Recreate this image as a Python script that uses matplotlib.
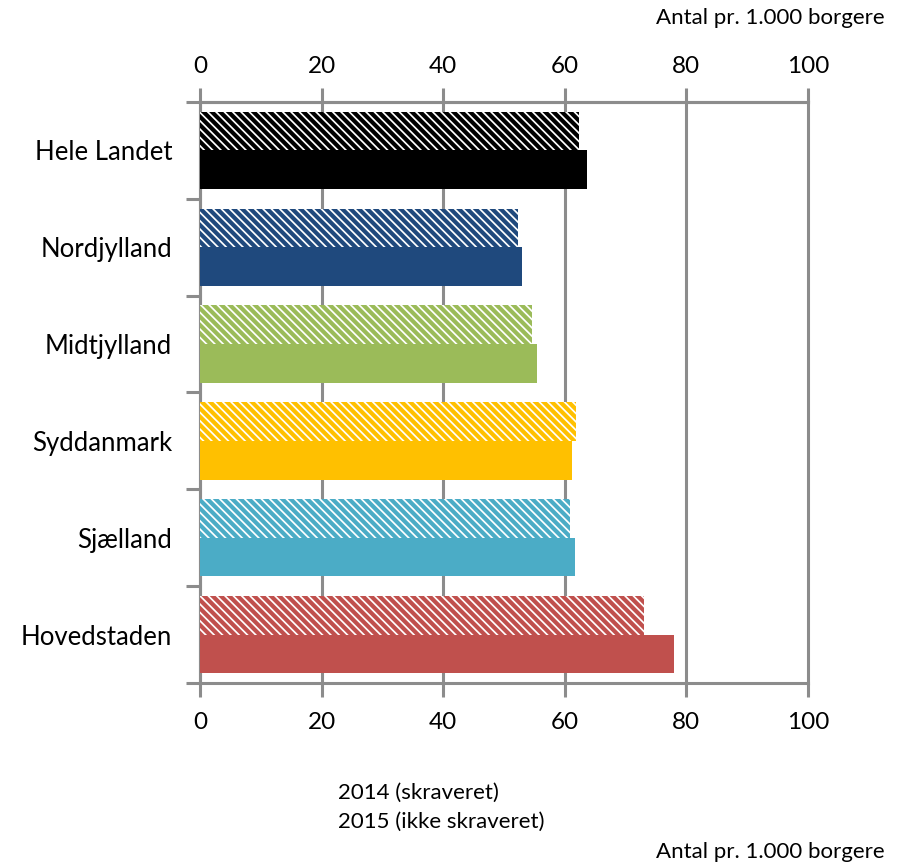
import numpy as np
from matplotlib import pyplot as plt

regions = ["Hele Landet", "Nordjylland", "Midtjylland", "Syddanmark", "Sjælland", "Hovedstaden"]
values_2014 = [62.3, 52.3, 54.6, 61.8, 60.8, 73.0]
values_2015 = [63.7, 53.0, 55.4, 61.2, 61.6, 77.9]
colors = ["#000000", "#1F497D", "#9BBB59", "#FFC000", "#4BACC6", "#C0504D"]
xticks = [0, 20, 40, 60, 80, 100]
unit_text = "Antal pr. 1.000 borgere"
note_2014 = "2014 (skraveret)"
note_2015 = "2015 (ikke skraveret)"

plt.rcParams["font.family"] = ["Lato", "DejaVu Sans"]
plt.rcParams["hatch.linewidth"] = 3.0

grey = "#8C8C8C"

fig = plt.figure(figsize=(9, 8.65), dpi=100)
ax = fig.add_axes([0.2222, 0.2104, 0.6756, 0.6717])

pos = np.arange(len(regions))
h = 0.4
for i, reg in enumerate(regions):
    ax.barh(pos[i] - h / 2, values_2014[i], height=h, color="white",
            edgecolor=colors[i], hatch="\\\\\\\\", linewidth=0, zorder=3)
    ax.barh(pos[i] + h / 2, values_2015[i], height=h, color=colors[i],
            linewidth=0, zorder=3)

ax.set_xlim(0, 100)
ax.set_ylim(len(regions) - 0.5, -0.5)
ax.set_xticks(xticks)
ax.set_xticklabels([str(t) for t in xticks])
ax.tick_params(axis="x", direction="out", length=10, width=2.2,
               color=grey, labelsize=17.5, pad=11)

# same ticks on top, own padding
top = ax.secondary_xaxis("top")
top.set_xticks(xticks)
top.set_xticklabels([str(t) for t in xticks])
top.tick_params(axis="x", direction="out", length=10, width=2.2,
                color=grey, labelsize=17.5, pad=8)
top.spines["top"].set_color(grey)
top.spines["top"].set_linewidth(2.2)

# category boundaries carry the ticks, the names sit between them
ax.set_yticks(np.arange(len(regions) + 1) - 0.5)
ax.set_yticklabels([])
ax.set_yticks(pos, minor=True)
ax.set_yticklabels(regions, minor=True)
ax.tick_params(axis="y", which="major", direction="out", length=10, width=2.2, color=grey)
ax.tick_params(axis="y", which="minor", length=0, labelsize=18.5, pad=20)

ax.grid(axis="x", color=grey, linewidth=2.2)
for gl in ax.get_xgridlines():
    gl.set_clip_on(False)
ax.set_axisbelow(True)
for side in ["top", "bottom", "left"]:
    ax.spines[side].set_color(grey)
    ax.spines[side].set_linewidth(2.2)
ax.spines["right"].set_visible(False)

fig.text(0.983, 0.979, unit_text, ha="right", va="center", fontsize=16)
fig.text(0.983, 0.015, unit_text, ha="right", va="center", fontsize=16)
fig.text(0.375, 0.083, note_2014, ha="left", va="center", fontsize=16)
fig.text(0.375, 0.050, note_2015, ha="left", va="center", fontsize=16)

fig.savefig("out.png", dpi=100)
